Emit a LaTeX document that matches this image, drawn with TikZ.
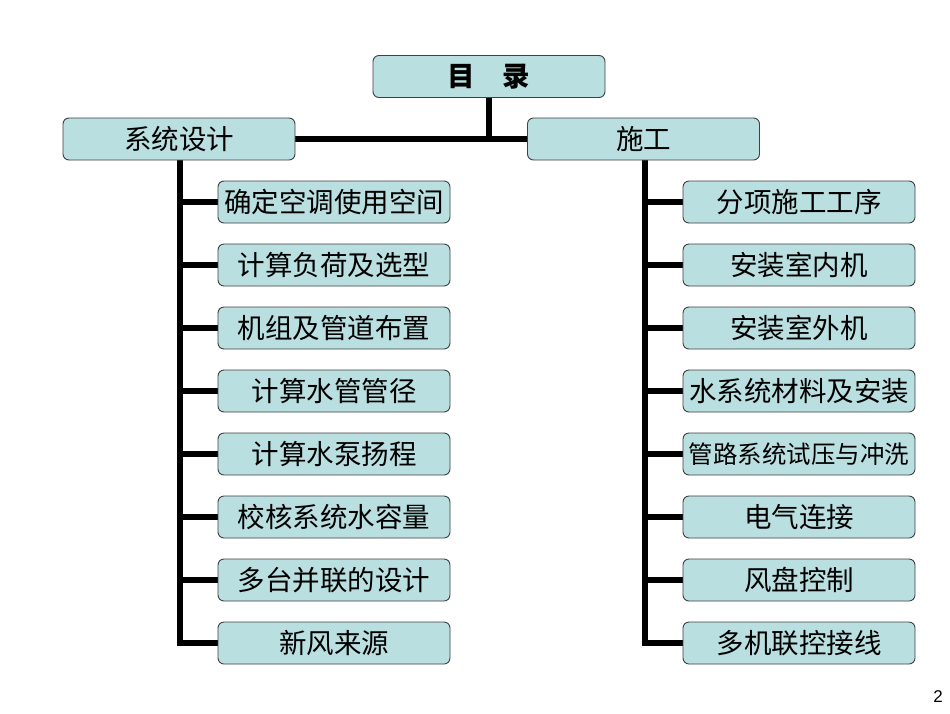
\documentclass[tikz,border=0pt]{standalone}
\usepackage{fontspec}
\setmainfont{Liberation Sans}
\newfontfamily\cjk{Noto Sans CJK SC}
\definecolor{boxfill}{HTML}{B9DFE0}
\definecolor{boxline}{HTML}{404040}
\begin{document}
\begin{tikzpicture}[x=1pt,y=-1pt,
  box/.style={draw=boxline,line width=0.9pt,fill=boxfill,rounded corners=6pt,
    minimum width=232pt,minimum height=42pt,inner sep=0pt,font=\cjk\fontsize{27.5}{27.5}\selectfont},
  conn/.style={line width=6pt}]
\useasboundingbox (0,0) rectangle (950,713);
\fill[white] (0,0) rectangle (950,713);
% connectors first
\draw[conn] (489,98) -- (489,139);
\draw[conn] (295,139) -- (528,139);
\draw[conn] (180,157) -- (180,646);
\draw[conn] (645,157) -- (645,646);
\foreach \y in {202,265,328,391,454,517,580,643}{
  \draw[conn] (177,\y) -- (218,\y);
  \draw[conn] (642,\y) -- (683,\y);
}
\node[box] (root) at (489,76.5) {\textbf{目\hspace{1.0em}录}};
\node[box] (L) at (179,139) {系统设计};
\node[box] (R) at (643.5,139) {施工};
\node[box] (l1) at (334,202) {确定空调使用空间};
\node[box] (l2) at (334,265) {计算负荷及选型};
\node[box] (l3) at (334,328) {机组及管道布置};
\node[box] (l4) at (334,391) {计算水管管径};
\node[box] (l5) at (334,454) {计算水泵扬程};
\node[box] (l6) at (334,517) {校核系统水容量};
\node[box] (l7) at (334,580) {多台并联的设计};
\node[box] (l8) at (334,643) {新风来源};
\node[box] (r1) at (799,202) {分项施工工序};
\node[box] (r2) at (799,265) {安装室内机};
\node[box] (r3) at (799,328) {安装室外机};
\node[box] (r4) at (799,391) {水系统材料及安装};
\node[box,font=\cjk\fontsize{24.5}{24.5}\selectfont] (r5) at (799,454) {管路系统试压与冲洗};
\node[box] (r6) at (799,517) {电气连接};
\node[box] (r7) at (799,580) {风盘控制};
\node[box] (r8) at (799,643) {多机联控接线};
\node[font=\fontsize{17}{17}\selectfont] (pg) at (938,697) {2};
\end{tikzpicture}
\end{document}
